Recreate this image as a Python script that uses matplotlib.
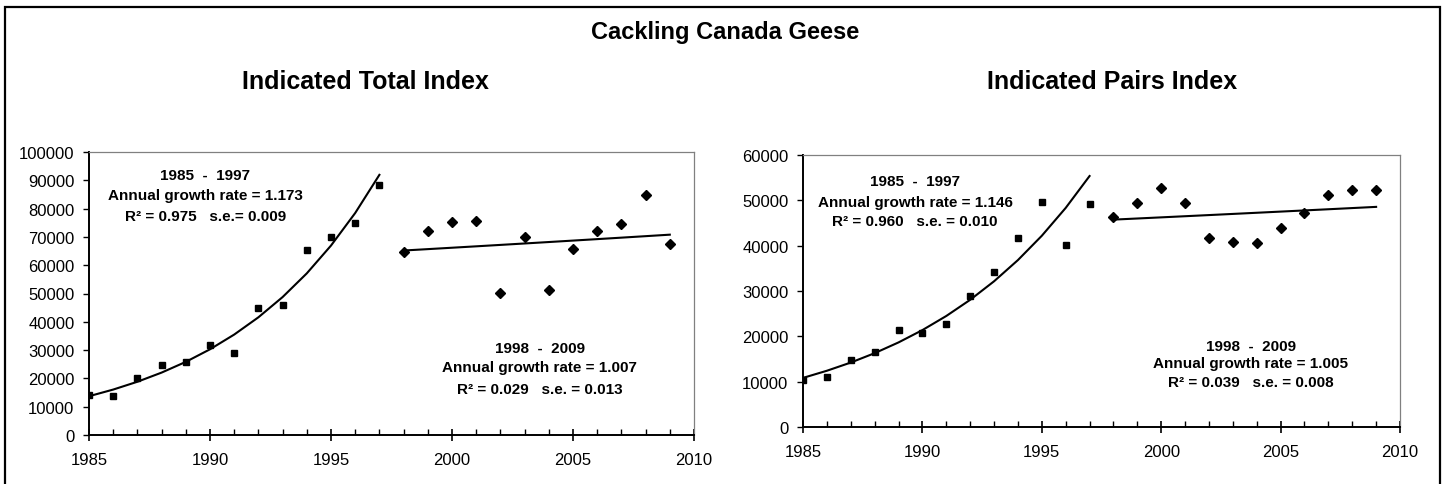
import numpy as np
import matplotlib
matplotlib.use("Agg")
import matplotlib.pyplot as plt
from matplotlib.patches import Rectangle
from matplotlib.ticker import MultipleLocator

plt.rcParams['font.family'] = ['Liberation Sans', 'DejaVu Sans']

# Indicated total index
years_early = np.arange(1985, 1998)
years_late = np.arange(1998, 2010)
total_early = [14100, 13750, 20100, 24700, 25850, 31850, 28900, 44750, 45800,
               65200, 70000, 75000, 88200]
total_late = [64600, 72150, 75200, 75550, 50200, 69900, 51350, 65800, 72150,
              74500, 84700, 67550]

# Indicated pairs index
pairs_early = [10300, 11050, 14700, 16600, 21400, 20800, 22700, 28900, 34250,
               41800, 49600, 40100, 49300]
pairs_late = [46300, 49500, 52700, 49500, 41700, 40850, 40600, 43850, 47300,
              51200, 52300, 52300]

total_notes = [["1985  -  1997", "Annual growth rate = 1.173", "R\u00b2 = 0.975   s.e.= 0.009"],
               ["1998  -  2009", "Annual growth rate = 1.007", "R\u00b2 = 0.029   s.e. = 0.013"]]
pairs_notes = [["1985  -  1997", "Annual growth rate = 1.146", "R\u00b2 = 0.960   s.e. = 0.010"],
               ["1998  -  2009", "Annual growth rate = 1.005", "R\u00b2 = 0.039   s.e. = 0.008"]]

W, H = 1451, 485
fig = plt.figure(figsize=(W / 100, H / 100), dpi=100)


def px_axes(x0, x1, ytop, ybot):
    return fig.add_axes([x0 / W, (H - ybot) / H, (x1 - x0) / W, (ybot - ytop) / H])


def exp_fit(x, y):
    b, a = np.polyfit(x, np.log(y), 1)
    return np.exp(a + b * x)


def draw_panel(ax, early, late, ymax, notes, note_pos):
    ax.plot(years_early, early, ls='none', marker='s', ms=4.3, color='black')
    ax.plot(years_late, late, ls='none', marker='D', ms=4.6, color='black')
    ax.plot(years_early, exp_fit(years_early, early), color='black', lw=1.5)
    ax.plot(years_late, exp_fit(years_late, late), color='black', lw=1.5)

    ax.set_xlim(1985, 2010)
    ax.set_ylim(0, ymax)
    ax.xaxis.set_major_locator(MultipleLocator(5))
    ax.xaxis.set_minor_locator(MultipleLocator(1))
    ax.yaxis.set_major_locator(MultipleLocator(10000))
    ax.tick_params(axis='x', which='major', direction='inout', length=8, width=1.2,
                   labelsize=12, pad=8)
    ax.tick_params(axis='x', which='minor', direction='in', length=4, width=1)
    ax.tick_params(axis='y', which='major', direction='out', length=4, width=1,
                   labelsize=12, pad=6.5)
    for s in ['left', 'bottom']:
        ax.spines[s].set_linewidth(1.4)
        ax.spines[s].set_color('black')
    for s in ['top', 'right']:
        ax.spines[s].set_linewidth(0.9)
        ax.spines[s].set_color('#808080')

    for lines, (x, ys) in zip(notes, note_pos):
        for txt, y in zip(lines, ys):
            ax.text(x, y, txt, transform=ax.transAxes, ha='center', va='center',
                    fontsize=11, fontweight='bold')


ax1 = px_axes(89, 694, 153, 436)
draw_panel(ax1, total_early, total_late, 100000, total_notes,
           [(0.192, [0.919, 0.848, 0.774]), (0.745, [0.307, 0.240, 0.163])])

ax2 = px_axes(803, 1400, 156, 428)
draw_panel(ax2, pairs_early, pairs_late, 60000, pairs_notes,
           [(0.188, [0.904, 0.827, 0.757]), (0.750, [0.298, 0.235, 0.165])])

fig.text(725 / W, 1 - 33 / H, "Cackling Canada Geese", ha='center', va='center',
         fontsize=17, fontweight='bold')
fig.text(365 / W, 1 - 82 / H, "Indicated Total Index", ha='center', va='center',
         fontsize=18, fontweight='bold')
fig.text(1112 / W, 1 - 82 / H, "Indicated Pairs Index", ha='center', va='center',
         fontsize=18, fontweight='bold')

# outer frame (bottom edge runs off the picture)
fig.add_artist(Rectangle((5 / W, -0.1), (1440 - 5) / W, 1.1 - 8 / H,
                         transform=fig.transFigure, fill=False, lw=1.6, ec='black'))

fig.savefig("out.png", dpi=100)
